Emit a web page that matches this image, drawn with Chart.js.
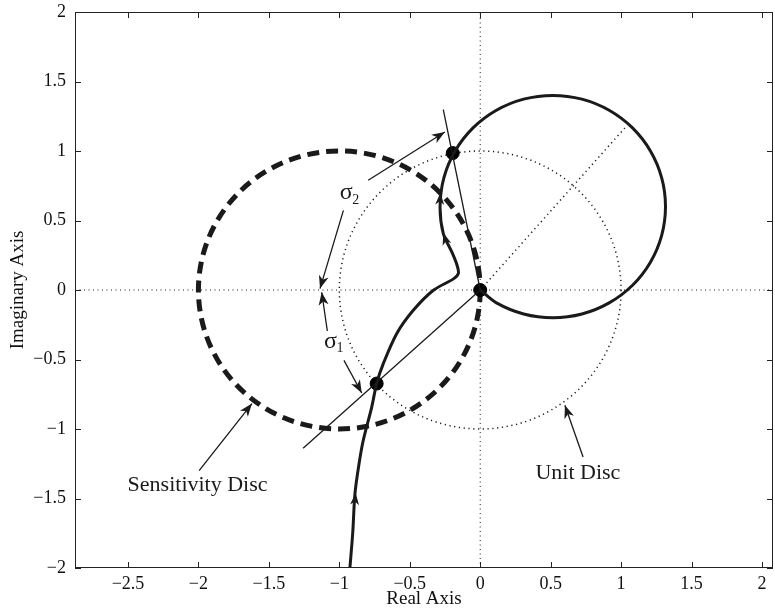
<!DOCTYPE html>
<html>
<head>
<meta charset="utf-8">
<script src="https://cdn.jsdelivr.net/npm/chart.js@4"></script>
<style>
  html, body { margin: 0; padding: 0; background: #fff; }
</style>
</head>
<body>
<canvas id="nyq" width="775" height="612"></canvas>
<script>
// axis ranges and ticks
const xRange = [-2.876, 2.078];
const yRange = [-2, 2];
const xTicks = [-2.5, -2, -1.5, -1, -0.5, 0, 0.5, 1, 1.5, 2];
const yTicks = [-2, -1.5, -1, -0.5, 0, 0.5, 1, 1.5, 2];

// Nyquist curve
const nyqX = [-0.925, -0.905, -0.889, -0.860, -0.830, -0.770, -0.735, -0.688, -0.593, -0.475, -0.330, -0.190, -0.155, -0.165, -0.200, -0.262, -0.285,
    -0.258, -0.178, -0.051, 0.115, 0.308, 0.515, 0.722, 0.915, 1.081, 1.208, 1.288, 1.315, 1.288, 1.208, 1.081, 0.915, 0.722, 0.515, 0.308, 0.115, 0.000];
const nyqY = [-2.000, -1.750, -1.465, -1.250, -1.081, -0.842, -0.673, -0.530, -0.314, -0.146, 0.000, 0.080, 0.120, 0.180, 0.270, 0.406, 0.600,
    0.807, 1.000, 1.166, 1.293, 1.373, 1.400, 1.373, 1.293, 1.166, 1.000, 0.807, 0.600, 0.393, 0.200, 0.034, -0.093, -0.173, -0.200, -0.173, -0.093, 0.000];

// marked points
const dotX = [-0.735, -0.195, 0];
const dotY = [-0.673, 0.985, 0];

// discs: sensitivity, unit
const discCx = [-1, 0];
const discCy = [0, 0];
const discR = [1, 1];

// thin straight lines
const line1X = [-1.257, 0];
const line1Y = [-1.139, 0];
const line2X = [-0.262, 0];
const line2Y = [1.298, 0];
const diagX = [0, 1.03];
const diagY = [0, 1.17];

// annotation arrows (tail -> tip)
const arrX0 = [-1.995, 0.730, -0.795, -0.971, -1.085, -0.967];
const arrY0 = [-1.300, -1.201, 0.790, 0.573, -0.295, -0.506];
const arrX1 = [-1.620, 0.601, -0.251, -1.137, -1.125, -0.841];
const arrY1 = [-0.817, -0.829, 1.137, 0.010, -0.016, -0.741];

// direction arrowheads on the curve (from -> tip)
const headX0 = [-0.893, -0.240, -0.287];
const headY0 = [-1.560, 0.340, 0.620];
const headX1 = [-0.884, -0.262, -0.283];
const headY1 = [-1.460, 0.410, 0.700];

// text labels
const textLabels = ['Sensitivity Disc', 'Unit Disc'];
const textX = [-2.006, 0.693];
const textY = [-1.405, -1.316];
const sigmaSub = ['2', '1'];
const sigmaX = [-0.951, -1.062];
const sigmaY = [0.697, -0.369];

const SERIF = "'Liberation Serif', 'Times New Roman', serif";
const INK = '#1a1a1a';

function pts(xs, ys) {
    return xs.map((x, i) => ({ x: x, y: ys[i] }));
}

function fmt(v) {
    const s = String(Math.abs(v));
    return v < 0 ? '\u2212' + s : s;
}

function arrowHead(ctx, x0, y0, x1, y1, len, half) {
    const a = Math.atan2(y1 - y0, x1 - x0);
    ctx.save();
    ctx.translate(x1, y1);
    ctx.rotate(a);
    ctx.beginPath();
    ctx.moveTo(0, 0);
    ctx.lineTo(-len, -half);
    ctx.lineTo(-len * 0.72, 0);
    ctx.lineTo(-len, half);
    ctx.closePath();
    ctx.fill();
    ctx.restore();
}

const extras = {
    id: 'extras',
    beforeDatasetsDraw(chart) {
        const { ctx, chartArea: a, scales: { x, y } } = chart;
        ctx.save();
        ctx.beginPath();
        ctx.rect(a.left, a.top, a.right - a.left, a.bottom - a.top);
        ctx.clip();
        ctx.strokeStyle = INK;
        discCx.forEach((cx, i) => {
            const px = x.getPixelForValue(cx);
            const py = y.getPixelForValue(discCy[i]);
            const rx = Math.abs(x.getPixelForValue(cx + discR[i]) - px);
            const ry = Math.abs(y.getPixelForValue(discCy[i] + discR[i]) - py);
            if (i === 0) {
                ctx.lineWidth = 5;
                ctx.setLineDash([12, 7]);
            } else {
                ctx.lineWidth = 1.5;
                ctx.setLineDash([1.2, 3.6]);
            }
            ctx.beginPath();
            ctx.ellipse(px, py, rx, ry, 0, 0, Math.PI * 2);
            ctx.stroke();
        });
        ctx.restore();
    },
    afterDatasetsDraw(chart) {
        const { ctx, chartArea: a, scales: { x, y } } = chart;
        ctx.save();
        ctx.fillStyle = INK;
        ctx.strokeStyle = INK;

        // annotation arrows
        ctx.lineWidth = 1.3;
        arrX0.forEach((v, i) => {
            const x0 = x.getPixelForValue(v), y0 = y.getPixelForValue(arrY0[i]);
            const x1 = x.getPixelForValue(arrX1[i]), y1 = y.getPixelForValue(arrY1[i]);
            ctx.beginPath();
            ctx.moveTo(x0, y0);
            ctx.lineTo(x1, y1);
            ctx.stroke();
            arrowHead(ctx, x0, y0, x1, y1, 13, 5);
        });

        // arrowheads along the curve
        headX0.forEach((v, i) => {
            arrowHead(ctx, x.getPixelForValue(v), y.getPixelForValue(headY0[i]),
                x.getPixelForValue(headX1[i]), y.getPixelForValue(headY1[i]), 12, 4.5);
        });

        // labels
        ctx.font = '22px ' + SERIF;
        ctx.textAlign = 'center';
        ctx.textBaseline = 'middle';
        textLabels.forEach((t, i) => {
            ctx.fillText(t, x.getPixelForValue(textX[i]), y.getPixelForValue(textY[i]));
        });
        sigmaSub.forEach((s, i) => {
            const px = x.getPixelForValue(sigmaX[i]);
            const py = y.getPixelForValue(sigmaY[i]);
            ctx.font = '24px ' + SERIF;
            ctx.textAlign = 'center';
            ctx.fillText('\u03c3', px, py);
            ctx.font = '14px ' + SERIF;
            ctx.textAlign = 'left';
            ctx.fillText(s, px + 6, py + 7);
        });

        // box and inward ticks
        ctx.lineWidth = 1;
        ctx.strokeStyle = '#222';
        ctx.strokeRect(a.left + 0.5, a.top + 0.5, a.right - a.left - 1, a.bottom - a.top - 1);
        ctx.beginPath();
        xTicks.forEach(v => {
            const px = Math.round(x.getPixelForValue(v)) + 0.5;
            ctx.moveTo(px, a.bottom); ctx.lineTo(px, a.bottom - 6);
            ctx.moveTo(px, a.top); ctx.lineTo(px, a.top + 6);
        });
        yTicks.forEach(v => {
            const py = Math.round(y.getPixelForValue(v)) + 0.5;
            ctx.moveTo(a.left, py); ctx.lineTo(a.left + 6, py);
            ctx.moveTo(a.right, py); ctx.lineTo(a.right - 6, py);
        });
        ctx.stroke();
        ctx.restore();
    }
};

new Chart(document.getElementById('nyq'), {
    type: 'scatter',
    data: {
        datasets: [
            {
                data: pts([0, 0], yRange),
                showLine: true, borderColor: INK, borderWidth: 1,
                borderDash: [1, 3.5], pointRadius: 0
            },
            {
                data: pts(xRange, [0, 0]),
                showLine: true, borderColor: INK, borderWidth: 1,
                borderDash: [1, 3.5], pointRadius: 0
            },
            {
                data: pts(diagX, diagY),
                showLine: true, borderColor: INK, borderWidth: 1.5,
                borderDash: [1.2, 3.6], pointRadius: 0
            },
            {
                data: pts(line1X, line1Y),
                showLine: true, borderColor: INK, borderWidth: 1.3, pointRadius: 0
            },
            {
                data: pts(line2X, line2Y),
                showLine: true, borderColor: INK, borderWidth: 1.3, pointRadius: 0
            },
            {
                data: pts(nyqX, nyqY),
                showLine: true, borderColor: INK, borderWidth: 3,
                pointRadius: 0, tension: 0.3
            },
            {
                data: pts(dotX, dotY),
                showLine: false, pointRadius: 6.5,
                backgroundColor: '#000', borderColor: '#000'
            }
        ]
    },
    options: {
        responsive: false,
        animation: false,
        layout: { autoPadding: false, padding: { left: 0, right: 2, top: 12, bottom: 0 } },
        plugins: { legend: { display: false }, tooltip: { enabled: false } },
        scales: {
            x: {
                type: 'linear', min: xRange[0], max: xRange[1],
                afterBuildTicks: s => { s.ticks = xTicks.map(v => ({ value: v })); },
                afterFit: s => { s.height = 44; s.paddingLeft = 0; s.paddingRight = 0; },
                grid: { display: false, drawTicks: false },
                border: { display: false },
                ticks: {
                    callback: v => fmt(v), color: '#111', padding: 5,
                    maxRotation: 0, autoSkip: false,
                    font: { family: SERIF, size: 18 }
                },
                title: {
                    display: true, text: 'Real Axis', color: '#111',
                    font: { family: SERIF, size: 19 }, padding: { top: 0, bottom: 2 }
                }
            },
            y: {
                type: 'linear', min: yRange[0], max: yRange[1],
                afterBuildTicks: s => { s.ticks = yTicks.map(v => ({ value: v })); },
                afterFit: s => { s.width = 75; s.paddingTop = 0; s.paddingBottom = 0; },
                grid: { display: false, drawTicks: false },
                border: { display: false },
                ticks: {
                    callback: v => fmt(v), color: '#111', padding: 9,
                    autoSkip: false,
                    font: { family: SERIF, size: 18 }
                },
                title: {
                    display: true, text: 'Imaginary Axis', color: '#111',
                    font: { family: SERIF, size: 19 }, padding: { top: 7, bottom: 0 }
                }
            }
        }
    },
    plugins: [extras]
});
</script>
</body>
</html>
